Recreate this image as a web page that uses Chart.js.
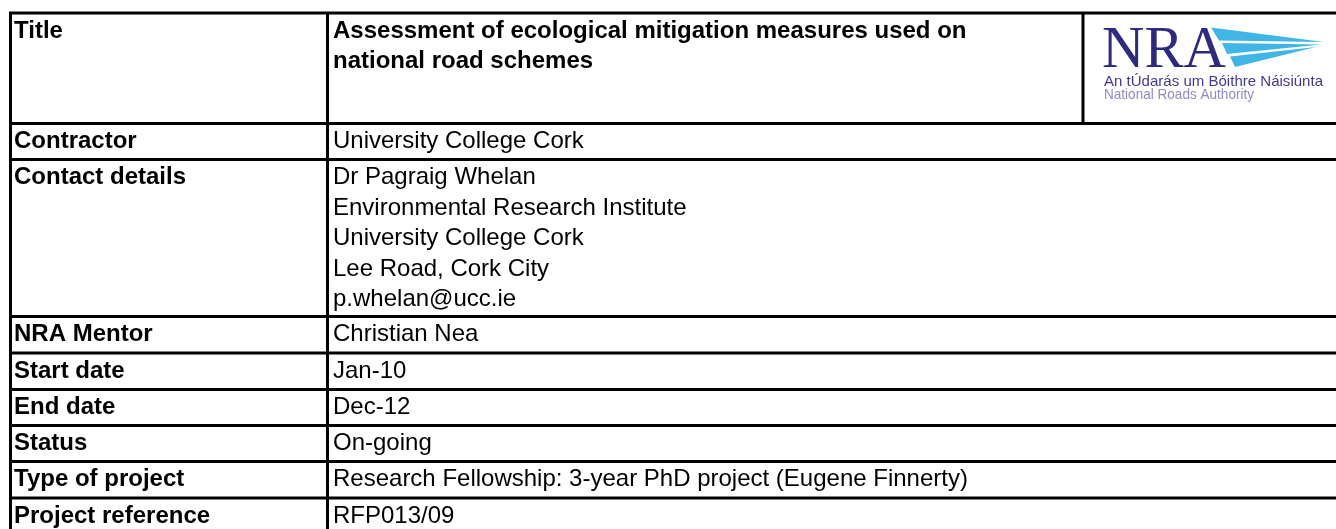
<!DOCTYPE html>
<html>
<head>
<meta charset="utf-8">
<script src="https://cdn.jsdelivr.net/npm/chart.js@4/dist/chart.umd.min.js"></script>
<style>
  html, body { margin: 0; padding: 0; background: #fff; overflow: hidden; }
  canvas { display: block; }
</style>
</head>
<body>
<canvas id="sheet" width="1336" height="529"></canvas>
<script>
// Row headings (left column)
const rowLabels = [
  'Title', 'Contractor', 'Contact details', 'NRA Mentor', 'Start date',
  'End date', 'Status', 'Type of project', 'Project reference'
];

// Cell contents (right column), one array entry per text line
const rowValues = [
  ['Assessment of ecological mitigation measures used on', 'national road schemes'],
  ['University College Cork'],
  ['Dr Pagraig Whelan', 'Environmental Research Institute', 'University College Cork',
   'Lee Road, Cork City', 'p.whelan@ucc.ie'],
  ['Christian Nea'],
  ['Jan-10'],
  ['Dec-12'],
  ['On-going'],
  ['Research Fellowship: 3-year PhD project (Eugene Finnerty)'],
  ['RFP013/09']
];

const logoMark = 'NRA';
const logoLines = ['An tÚdarás um Bóithre Náisiúnta', 'National Roads Authority'];

// Layout in sheet units (scales map them onto the canvas)
const ROW_EDGES = [13, 123.5, 159.5, 316.5, 353, 389.5, 425.5, 461.5, 498, 534];
const COL_EDGES = [10.5, 327.5, 1083];
const LINE_GAP = 30.5;
const FIRST_BASELINE = 24.5;
const FONT = '"Liberation Sans", Arial, sans-serif';

const tablePlugin = {
  id: 'table',
  beforeDraw(chart) {
    const { ctx, width, height } = chart;
    ctx.save();
    ctx.fillStyle = '#fff';
    ctx.fillRect(0, 0, width, height);
    ctx.restore();
  },
  afterDraw(chart) {
    const { ctx } = chart;
    const sx = chart.scales.x, sy = chart.scales.y;
    const X = v => sx.getPixelForValue(v);
    const Y = v => sy.getPixelForValue(v);
    const right = sx.max + 10;

    ctx.save();
    // text
    ctx.fillStyle = '#000';
    ctx.textBaseline = 'alphabetic';
    ctx.textAlign = 'left';
    rowLabels.forEach((lab, i) => {
      const top = ROW_EDGES[i];
      ctx.font = 'bold 24px ' + FONT;
      ctx.fillText(lab, X(COL_EDGES[0] + 3.5), Y(top + FIRST_BASELINE));
      ctx.font = (i === 0 ? 'bold ' : '') + '24px ' + FONT;
      rowValues[i].forEach((line, j) => {
        ctx.fillText(line, X(COL_EDGES[1] + 5.5), Y(top + FIRST_BASELINE + j * LINE_GAP));
      });
    });

    // grid lines
    ctx.strokeStyle = '#000';
    ctx.lineWidth = 3;
    ctx.beginPath();
    ROW_EDGES.forEach(r => {
      ctx.moveTo(X(COL_EDGES[0] - 1.5), Y(r));
      ctx.lineTo(X(right), Y(r));
    });
    ctx.moveTo(X(COL_EDGES[0]), Y(ROW_EDGES[0]));
    ctx.lineTo(X(COL_EDGES[0]), Y(ROW_EDGES[ROW_EDGES.length - 1]));
    ctx.moveTo(X(COL_EDGES[1]), Y(ROW_EDGES[0]));
    ctx.lineTo(X(COL_EDGES[1]), Y(ROW_EDGES[ROW_EDGES.length - 1]));
    ctx.moveTo(X(COL_EDGES[2]), Y(ROW_EDGES[0]));
    ctx.lineTo(X(COL_EDGES[2]), Y(ROW_EDGES[1]));
    ctx.stroke();

    // logo: blue swoosh wedges
    ctx.fillStyle = '#41b6e6';
    const wedges = [
      [[1211, 27.5], [1324, 42], [1219, 40.5]],
      [[1222, 43], [1321, 44.5], [1227, 54]],
      [[1230, 56.5], [1316, 47], [1235, 67]]
    ];
    wedges.forEach(w => {
      ctx.beginPath();
      w.forEach(([px, py], k) => k ? ctx.lineTo(X(px), Y(py)) : ctx.moveTo(X(px), Y(py)));
      ctx.closePath();
      ctx.fill();
    });

    const fitText = (txt, font, color, x0, base, w) => {
      ctx.font = font;
      ctx.fillStyle = color;
      const m = ctx.measureText(txt).width;
      ctx.save();
      ctx.translate(X(x0), Y(base));
      ctx.scale((X(x0 + w) - X(x0)) / m, 1);
      ctx.fillText(txt, 0, 0);
      ctx.restore();
    };
    fitText(logoMark, '59px "Liberation Serif", "Times New Roman", serif', '#2d2a80', 1102, 67, 124);
    fitText(logoLines[0], '15px "Liberation Sans Narrow", "Liberation Sans", sans-serif', '#41398f', 1104, 86, 219);
    fitText(logoLines[1], '15px "Liberation Sans Narrow", "Liberation Sans", sans-serif', '#8e8bc2', 1104, 99, 150);
    ctx.restore();
  }
};

new Chart(document.getElementById('sheet').getContext('2d'), {
  type: 'scatter',
  data: {
    // one invisible anchor per row, placed at the row's first baseline
    datasets: [{
      data: rowLabels.map((_, i) => ({ x: COL_EDGES[0], y: ROW_EDGES[i] + FIRST_BASELINE })),
      pointRadius: 0
    }]
  },
  options: {
    responsive: false,
    devicePixelRatio: 1,
    animation: false,
    events: [],
    layout: { padding: 0 },
    plugins: { legend: { display: false }, tooltip: { enabled: false } },
    scales: {
      x: { type: 'linear', min: 0, max: 1336, display: false },
      y: { type: 'linear', min: 0, max: 529, reverse: true, display: false }
    }
  },
  plugins: [tablePlugin]
});
</script>
</body>
</html>
